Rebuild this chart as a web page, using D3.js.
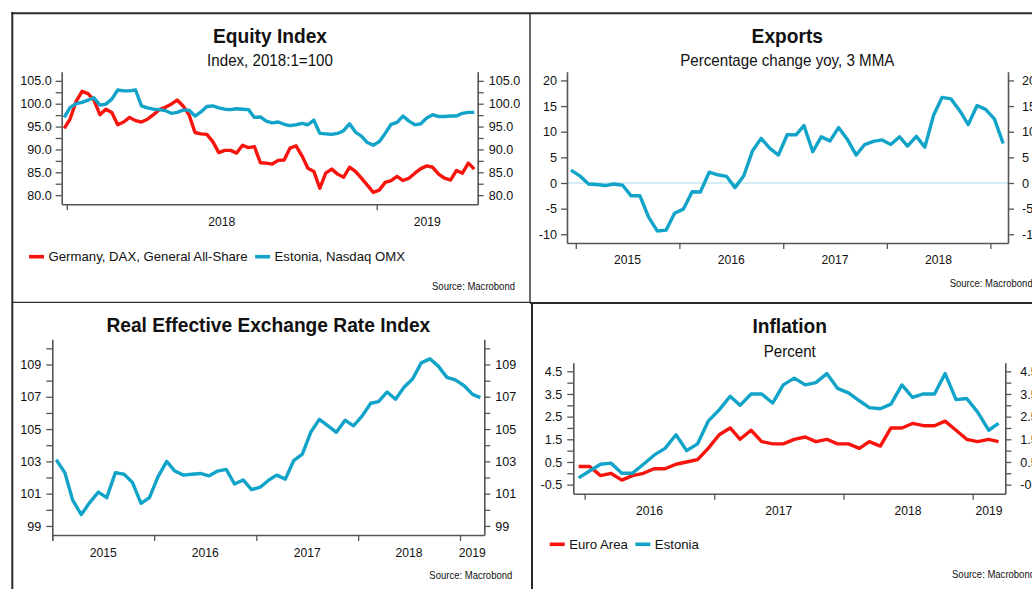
<!DOCTYPE html>
<html>
<head>
<meta charset="utf-8">
<script src="https://cdn.jsdelivr.net/npm/d3@7"></script>
<style>
  html, body { margin: 0; padding: 0; background: #fff; }
  svg { display: block; }
</style>
</head>
<body>
<svg id="chart" width="1032" height="589"></svg>
<script>
// ---------------- DATA ----------------
// Equity Index (weekly readings, Index 2018:1=100)
const equityStart = "2017-12-29";
const equityGermany = [94.6, 96.7, 100.5, 102.7, 102.2, 100.8, 97.6, 98.8, 98.1, 95.4,
  96.0, 97.0, 96.3, 96.0, 96.6, 97.6, 98.7, 99.2, 99.9, 100.8,
  99.5, 97.6, 93.7, 93.4, 93.3, 91.7, 89.3, 89.8, 89.8, 89.2,
  90.9, 90.4, 90.6, 87.1, 87.0, 86.8, 87.6, 87.7, 90.3, 90.8,
  88.6, 85.9, 85.2, 81.5, 84.8, 85.7, 84.6, 83.9, 86.1, 85.2,
  83.7, 82.2, 80.6, 81.1, 82.8, 83.2, 84.1, 83.2, 83.7, 84.8,
  85.8, 86.4, 86.1, 84.6, 83.7, 83.3, 85.4, 84.8, 87.0, 85.7];
const equityEstonia = [97.0, 99.2, 100.0, 100.3, 100.8, 101.3, 99.7, 99.9, 101.0, 103.0,
  102.8, 102.8, 103.0, 99.5, 99.1, 98.8, 98.7, 98.5, 97.9, 98.1,
  98.6, 98.6, 97.3, 98.2, 99.4, 99.5, 99.1, 98.8, 98.7, 98.9,
  98.8, 98.7, 97.0, 97.1, 96.2, 95.8, 96.0, 95.5, 95.2, 95.4,
  95.7, 95.4, 96.4, 93.5, 93.4, 93.3, 93.5, 94.1, 95.6, 93.8,
  92.9, 91.5, 90.9, 91.7, 93.5, 95.5, 95.9, 97.3, 96.2, 95.4,
  95.6, 96.9, 97.6, 97.2, 97.2, 97.3, 97.3, 97.9, 98.1, 98.1];
const equityTicks = [80, 82.5, 85, 87.5, 90, 92.5, 95, 97.5, 100, 102.5, 105];
const equityLabels = [80, 85, 90, 95, 100, 105];
const equityLegend = ["Germany, DAX, General All-Share", "Estonia, Nasdaq OMX"];

// Exports (monthly, % yoy 3MMA), Dec 2014 - Feb 2019
const exportsStart = "2014-12-15";
const exportsValues = [2.5, 1.4, -0.2, -0.3, -0.5, -0.2, -0.45, -2.5, -2.5, -6.7,
  -9.35, -9.2, -5.9, -5.1, -1.7, -1.75, 2.1, 1.6, 1.3, -0.9,
  1.4, 6.3, 8.7, 6.75, 5.45, 9.4, 9.4, 11.2, 6.1, 9.0,
  8.2, 10.8, 8.5, 5.45, 7.5, 8.1, 8.4, 7.5, 9.0, 7.2,
  9.1, 7.0, 13.25, 16.7, 16.4, 14.1, 11.4, 15.1, 14.35, 12.5,
  7.7];
const exportsTicks = [-10, -5, 0, 5, 10, 15, 20];

// Real Effective Exchange Rate Index (monthly), Jan 2015 - Mar 2019
const reerStart = "2015-01-15";
const reerValues = [103.1, 102.3, 100.6, 99.7, 100.45, 101.1, 100.75, 102.3, 102.2, 101.7,
  100.4, 100.75, 102.05, 103.0, 102.4, 102.15, 102.2, 102.25, 102.1, 102.4,
  102.5, 101.6, 101.85, 101.25, 101.4, 101.85, 102.15, 101.9, 103.05, 103.45,
  104.8, 105.6, 105.2, 104.8, 105.55, 105.2, 105.8, 106.6, 106.7, 107.3,
  106.85, 107.6, 108.1, 109.1, 109.35, 108.9, 108.2, 108.05, 107.7, 107.15,
  106.95];
const reerTicks = [99, 100, 101, 102, 103, 104, 105, 106, 107, 108, 109, 110];
const reerLabels = [99, 101, 103, 105, 107, 109];

// Inflation (monthly, percent), Dec 2015 - Mar 2019
const inflationStart = "2015-12-15";
const inflationEuro = [0.3, 0.3, -0.1, 0.0, -0.3, -0.1, 0.0, 0.2, 0.2, 0.4,
  0.5, 0.6, 1.1, 1.7, 2.0, 1.5, 1.9, 1.4, 1.3, 1.3,
  1.5, 1.6, 1.4, 1.5, 1.3, 1.3, 1.1, 1.4, 1.2, 2.0,
  2.0, 2.2, 2.1, 2.1, 2.3, 1.9, 1.5, 1.4, 1.5, 1.4];
const inflationEstonia = [-0.2, 0.1, 0.4, 0.45, 0.0, 0.0, 0.4, 0.8, 1.1, 1.7,
  1.0, 1.3, 2.3, 2.8, 3.4, 3.0, 3.5, 3.5, 3.1, 3.9,
  4.2, 3.9, 4.0, 4.4, 3.75, 3.55, 3.2, 2.9, 2.85, 3.05,
  3.9, 3.35, 3.5, 3.5, 4.4, 3.25, 3.3, 2.7, 1.9, 2.2];
const inflationTicks = [-0.5, 0, 0.5, 1, 1.5, 2, 2.5, 3, 3.5, 4, 4.5];
const inflationLabels = [-0.5, 0.5, 1.5, 2.5, 3.5, 4.5];
const inflationLegend = ["Euro Area", "Estonia"];

const RED = "#f7140c";
const BLUE = "#11a3c8";
const AXIS = "#555";
const TEXT = "#111";
const FONT = '"Liberation Sans", Arial, Helvetica, sans-serif';

// ---------------- HELPERS ----------------
const parse = d3.timeParse("%Y-%m-%d");
const weekly = (start, n) => d3.range(n).map(i => d3.timeWeek.offset(parse(start), i));
const monthly = (start, n) => d3.range(n).map(i => d3.timeMonth.offset(parse(start), i));

const svg = d3.select("#chart");
svg.append("rect").attr("width", 1032).attr("height", 589).attr("fill", "#fff");

function fmtNum(f) {
  const g = d3.format(f);
  return v => g(v).replace("\u2212", "-");
}

// returns [selection, rendered width]
function text(x, y, str, opts) {
  const t = svg.append("text")
    .attr("x", x).attr("y", y)
    .attr("text-anchor", opts.anchor || "middle")
    .style("font-family", FONT)
    .style("font-size", opts.size + "px")
    .style("font-weight", opts.weight || "normal")
    .attr("fill", TEXT)
    .text(str);
  let L = t.node().getComputedTextLength();
  if (opts.squeeze) {
    L = L * opts.squeeze;
    t.attr("textLength", L).attr("lengthAdjust", "spacingAndGlyphs");
  }
  return [t, L];
}

function panel(cfg) {
  const x = d3.scaleTime().domain(cfg.xDomain.map(parse)).range([cfg.left, cfg.right]);
  const y = d3.scaleLinear().domain(cfg.yDomain).range([cfg.bottom, cfg.top]);
  const g = svg.append("g");

  if (cfg.zeroLine) {
    g.append("line").attr("x1", cfg.left).attr("x2", cfg.right)
      .attr("y1", y(0)).attr("y2", y(0))
      .attr("stroke", "#a9d9e8").attr("stroke-width", 1.2);
  }

  const labelSet = new Set(cfg.yLabels.map(String));
  const fmt = fmtNum(cfg.yFormat);
  const yl = d3.axisLeft(y).tickValues(cfg.yTicks).tickSize(6).tickSizeOuter(0)
    .tickPadding(cfg.padL).tickFormat(v => labelSet.has(String(v)) ? fmt(v) : "");
  const yr = d3.axisRight(y).tickValues(cfg.yTicks).tickSize(6).tickSizeOuter(0)
    .tickPadding(cfg.padR).tickFormat(v => labelSet.has(String(v)) ? fmt(v) : "");

  const [d0, d1] = x.domain();
  const years = d3.timeYear.range(d3.timeYear.ceil(d0), d1);
  if (+d3.timeYear.floor(d0) === +d0) years.unshift(d0);
  const xb = d3.axisBottom(x).tickValues(years).tickSize(6).tickSizeOuter(0).tickFormat("");

  const styleAxis = sel => {
    sel.select(".domain").attr("stroke", AXIS).attr("stroke-width", 1.6);
    sel.selectAll(".tick line").attr("stroke", AXIS).attr("stroke-width", 1.3);
    sel.selectAll(".tick text").attr("fill", TEXT)
      .style("font-family", FONT).style("font-size", "12.6px");
  };
  g.append("g").attr("transform", `translate(${cfg.left},0)`).call(yl).call(styleAxis);
  g.append("g").attr("transform", `translate(${cfg.right},0)`).call(yr).call(styleAxis);
  g.append("g").attr("transform", `translate(0,${cfg.bottom})`).call(xb).call(styleAxis);

  // year labels centred on the visible part of each year
  d3.timeYear.range(d3.timeYear.floor(d0), d1).forEach(yr0 => {
    const a = Math.max(x(yr0), cfg.left);
    const b = Math.min(x(d3.timeYear.offset(yr0, 1)), cfg.right);
    if (b - a < 20) return;
    text((a + b) / 2, cfg.yearY, d3.timeFormat("%Y")(yr0), { size: 12.8, squeeze: 0.95 });
  });

  cfg.series.forEach(s => {
    const line = d3.line().x((d, i) => x(s.dates[i])).y(d => y(d));
    g.append("path").datum(s.values)
      .attr("d", line).attr("fill", "none")
      .attr("stroke", s.color).attr("stroke-width", 3.4)
      .attr("stroke-linejoin", "round").attr("stroke-linecap", "butt");
  });

  text(cfg.cx, cfg.titleY, cfg.title, { size: 20.5, weight: "bold", squeeze: 0.935 });
  if (cfg.subtitle) text(cfg.cx, cfg.subY, cfg.subtitle, { size: 17, squeeze: 0.89 });

  if (cfg.legend) {
    let lx = cfg.legend.x;
    cfg.series.forEach(s => {
      svg.append("line").attr("x1", lx).attr("x2", lx + 15)
        .attr("y1", cfg.legend.y).attr("y2", cfg.legend.y)
        .attr("stroke", s.color).attr("stroke-width", 3.6);
      const [, L] = text(lx + 19.5, cfg.legend.y + 4.6, s.name, { size: 13.6, anchor: "start", squeeze: 0.97 });
      lx = lx + 19.5 + L + 7.5;
    });
  }
  text(cfg.source.x, cfg.source.y, "Source: Macrobond",
    { size: 11.2, anchor: cfg.source.anchor, squeeze: 0.85 });
}

// ---------------- PANELS ----------------
panel({
  title: "Equity Index", subtitle: "Index, 2018:1=100",
  cx: 270, titleY: 42.5, subY: 65.7,
  left: 61.7, right: 477.7, top: 71.7, bottom: 204.3,
  xDomain: ["2017-12-26", "2019-04-30"], yDomain: [78, 107],
  yTicks: equityTicks, yLabels: equityLabels, yFormat: ".1f", padL: 4, padR: 5,
  yearY: 226,
  series: [
    { name: equityLegend[0], color: RED, dates: weekly(equityStart, equityGermany.length), values: equityGermany },
    { name: equityLegend[1], color: BLUE, dates: weekly(equityStart, equityEstonia.length), values: equityEstonia }
  ],
  legend: { x: 29, y: 256.7 },
  source: { x: 515, y: 290, anchor: "end" }
});

panel({
  title: "Exports", subtitle: "Percentage change yoy, 3 MMA",
  cx: 787.3, titleY: 42.7, subY: 65.7,
  left: 567, right: 1008, top: 71.7, bottom: 243,
  xDomain: ["2014-12-01", "2019-03-04"], yDomain: [-11.7, 21.7],
  yTicks: exportsTicks, yLabels: exportsTicks, yFormat: "d", padL: 4, padR: 8,
  yearY: 264, zeroLine: true,
  series: [
    { name: "Exports", color: BLUE, dates: monthly(exportsStart, exportsValues.length), values: exportsValues }
  ],
  source: { x: 949.7, y: 286.7, anchor: "start" }
});

panel({
  title: "Real Effective Exchange Rate Index",
  cx: 268.3, titleY: 332.3,
  left: 52.3, right: 484.3, top: 339.3, bottom: 535,
  xDomain: ["2015-01-01", "2019-03-29"], yDomain: [98.44, 110.56],
  yTicks: reerTicks, yLabels: reerLabels, yFormat: "d", padL: 5, padR: 5,
  yearY: 556.7,
  series: [
    { name: "REER", color: BLUE, dates: monthly(reerStart, reerValues.length), values: reerValues }
  ],
  source: { x: 512.3, y: 579.3, anchor: "end" }
});

panel({
  title: "Inflation", subtitle: "Percent",
  cx: 789.7, titleY: 333.3, subY: 356.7,
  left: 573.3, right: 1005.3, top: 362.7, bottom: 493.7,
  xDomain: ["2015-11-30", "2019-04-03"], yDomain: [-0.9, 4.88],
  yTicks: inflationTicks, yLabels: inflationLabels, yFormat: ".1f", padL: 5, padR: 9,
  yearY: 515,
  series: [
    { name: inflationLegend[0], color: RED, dates: monthly(inflationStart, inflationEuro.length), values: inflationEuro },
    { name: inflationLegend[1], color: BLUE, dates: monthly(inflationStart, inflationEstonia.length), values: inflationEstonia }
  ],
  legend: { x: 549.7, y: 544.3 },
  source: { x: 952, y: 578.3, anchor: "start" }
});

// ---------------- FRAME ----------------
const frame = svg.append("g").attr("stroke", "#2a2a2a").attr("fill", "none");
frame.append("line").attr("x1", 12.3).attr("x2", 12.3).attr("y1", 12).attr("y2", 589).attr("stroke-width", 2);
frame.append("line").attr("x1", 11.3).attr("x2", 1032).attr("y1", 13.3).attr("y2", 13.3).attr("stroke-width", 2);
frame.append("line").attr("x1", 530).attr("x2", 530).attr("y1", 13).attr("y2", 302.5).attr("stroke-width", 1.4);
frame.append("line").attr("x1", 12).attr("x2", 530).attr("y1", 302.3).attr("y2", 302.3).attr("stroke-width", 1.3);
frame.append("line").attr("x1", 530).attr("x2", 1032).attr("y1", 303).attr("y2", 303).attr("stroke-width", 2);
frame.append("line").attr("x1", 532).attr("x2", 532).attr("y1", 302).attr("y2", 589).attr("stroke-width", 2);
</script>
</body>
</html>
